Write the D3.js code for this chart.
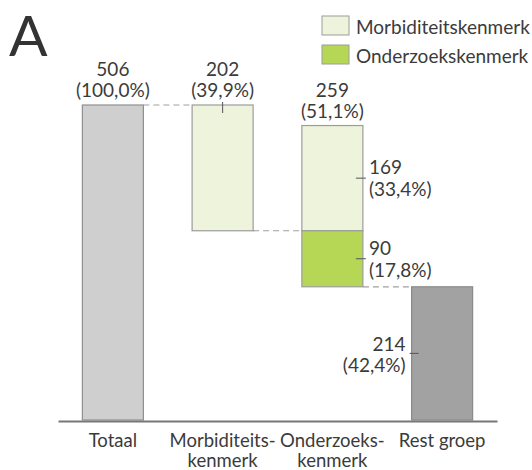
<!DOCTYPE html>
<html>
<head>
<meta charset="utf-8">
<script src="https://cdn.jsdelivr.net/npm/d3@7"></script>
<style>
  html, body { margin: 0; padding: 0; background: #fff; }
  svg { display: block; font-family: Lato, "Open Sans", sans-serif; }
</style>
</head>
<body>
<svg id="chart" width="532" height="470"></svg>
<script>
// Waterfall of the study group: total, split by characteristic, remainder
const categories = ["Totaal", "Morbiditeitskenmerk", "Onderzoekskenmerk", "Rest groep"];
const categoryLabels = [["Totaal"], ["Morbiditeits-", "kenmerk"], ["Onderzoeks-", "kenmerk"], ["Rest groep"]];

const totalN = 506;
const morbiditeitN = 202;
const onderzoekTotalN = 259;
const onderzoekMorbN = 169;
const onderzoekOnlyN = 90;
const restN = 214;

const pctTotal = "100,0%";
const pctMorbiditeit = "39,9%";
const pctOnderzoekTotal = "51,1%";
const pctOnderzoekMorb = "33,4%";
const pctOnderzoekOnly = "17,8%";
const pctRest = "42,4%";

const legendLabels = ["Morbiditeitskenmerk", "Onderzoekskenmerk"];

const colors = {
  total: "#cfcfcf",
  morb: "#eef4db",
  onderzoek: "#b6d756",
  rest: "#a2a2a2",
  text: "#3b3b3b",
  stroke: "#9c9c9c"
};

const fontSize = 19;

const svg = d3.select("#chart");

const x = d3.scaleBand().domain(categories).range([58, 497]).paddingInner(0.444).paddingOuter(0.222);
const y = d3.scaleLinear().domain([0, totalN]).range([420, 105]);

// Segments: [category, from, to, fill]
const segments = [
  { cat: categories[0], y0: 0, y1: totalN, fill: colors.total, stroke: "#8f8f8f" },
  { cat: categories[1], y0: totalN - morbiditeitN, y1: totalN, fill: colors.morb, stroke: colors.stroke },
  { cat: categories[2], y0: restN + onderzoekOnlyN, y1: restN + onderzoekOnlyN + onderzoekMorbN, fill: colors.morb, stroke: colors.stroke },
  { cat: categories[2], y0: restN, y1: restN + onderzoekOnlyN, fill: colors.onderzoek, stroke: colors.stroke },
  { cat: categories[3], y0: 0, y1: restN, fill: colors.rest, stroke: "#8a8a8a" }
];

svg.append("g").selectAll("rect").data(segments).join("rect")
  .attr("x", d => x(d.cat))
  .attr("y", d => y(d.y1))
  .attr("width", x.bandwidth())
  .attr("height", d => y(d.y0) - y(d.y1))
  .attr("fill", d => d.fill)
  .attr("stroke", d => d.stroke)
  .attr("stroke-width", 1.2);

// Dashed connectors between consecutive bars
const connectors = [
  { from: categories[0], to: categories[1], v: totalN },
  { from: categories[1], to: categories[2], v: totalN - morbiditeitN },
  { from: categories[2], to: categories[3], v: restN }
];
svg.append("g").selectAll("line").data(connectors).join("line")
  .attr("x1", d => x(d.from) + x.bandwidth())
  .attr("x2", d => x(d.to))
  .attr("y1", d => y(d.v))
  .attr("y2", d => y(d.v))
  .attr("stroke", "#a0a0a0")
  .attr("stroke-width", 1.2)
  .attr("stroke-dasharray", "6,4");

// Baseline axis
const xAxis = d3.axisBottom(x).tickSize(0).tickFormat("");
const axisG = svg.append("g").attr("transform", `translate(0,${y(0) + 1})`).call(xAxis);
axisG.select(".domain").attr("stroke", "#777").attr("stroke-width", 2.2);

// Category labels (two lines where needed)
const catText = svg.append("g").attr("font-size", 18.5).attr("fill", colors.text).attr("text-anchor", "middle");
categories.forEach((c, i) => {
  const t = catText.append("text").attr("x", x(c) + x.bandwidth() / 2).attr("y", 447);
  categoryLabels[i].forEach((line, j) => {
    t.append("tspan").attr("x", x(c) + x.bandwidth() / 2).attr("dy", j === 0 ? 0 : 20).text(line);
  });
});

const labels = svg.append("g").attr("font-size", fontSize).attr("fill", colors.text);
const tickColor = "#555";

// Labels above bars
function topLabel(cat, top, n, pct) {
  const cx = x(cat) + x.bandwidth() / 2;
  const g = labels.append("text").attr("text-anchor", "middle");
  g.append("tspan").attr("x", cx).attr("y", y(top) - 29).text(n);
  g.append("tspan").attr("x", cx).attr("y", y(top) - 8).text(`(${pct})`);
}
topLabel(categories[0], totalN, totalN, pctTotal);
topLabel(categories[1], totalN, morbiditeitN, pctMorbiditeit);
topLabel(categories[2], restN + onderzoekTotalN, onderzoekTotalN, pctOnderzoekTotal);

// Small vertical tick from the Morbiditeitskenmerk label into its bar
{
  const cx = x(categories[1]) + x.bandwidth() / 2;
  labels.append("line")
    .attr("x1", cx).attr("x2", cx)
    .attr("y1", y(totalN) - 3).attr("y2", y(totalN) + 8)
    .attr("stroke", tickColor).attr("stroke-width", 1);
}

// Side labels next to the stacked segments
function sideLabelRight(cat, y0, y1, n, pct) {
  const right = x(cat) + x.bandwidth();
  const mid = (y(y0) + y(y1)) / 2;
  labels.append("line")
    .attr("x1", right - 7).attr("x2", right + 3)
    .attr("y1", mid).attr("y2", mid)
    .attr("stroke", tickColor).attr("stroke-width", 1);
  const t = labels.append("text").attr("text-anchor", "start");
  t.append("tspan").attr("x", right + 6).attr("y", mid - 4).text(n);
  t.append("tspan").attr("x", right + 6).attr("y", mid + 18).text(`(${pct})`);
}
sideLabelRight(categories[2], restN + onderzoekOnlyN, restN + onderzoekOnlyN + onderzoekMorbN, onderzoekMorbN, pctOnderzoekMorb);
sideLabelRight(categories[2], restN, restN + onderzoekOnlyN, onderzoekOnlyN, pctOnderzoekOnly);

// Label left of the remainder bar
{
  const left = x(categories[3]);
  const mid = (y(0) + y(restN)) / 2;
  labels.append("line")
    .attr("x1", left - 2).attr("x2", left + 7)
    .attr("y1", mid).attr("y2", mid)
    .attr("stroke", tickColor).attr("stroke-width", 1);
  const t = labels.append("text").attr("text-anchor", "end");
  t.append("tspan").attr("x", left - 6).attr("y", mid - 2).text(restN);
  t.append("tspan").attr("x", left - 6).attr("y", mid + 19).text(`(${pctRest})`);
}

// Legend
const legendFills = [colors.morb, colors.onderzoek];
const legend = svg.append("g");
legendLabels.forEach((l, i) => {
  legend.append("rect")
    .attr("x", 322).attr("y", 16 + i * 29)
    .attr("width", 27).attr("height", 19)
    .attr("fill", legendFills[i]).attr("stroke", colors.stroke).attr("stroke-width", 1);
  legend.append("text")
    .attr("x", 356).attr("y", 34 + i * 29)
    .attr("font-size", fontSize).attr("fill", colors.text)
    .text(l);
});

// Panel letter
svg.append("text")
  .attr("x", 9).attr("y", 56)
  .attr("font-size", 57)
  .attr("fill", "#333")
  .text("A");
</script>
</body>
</html>
